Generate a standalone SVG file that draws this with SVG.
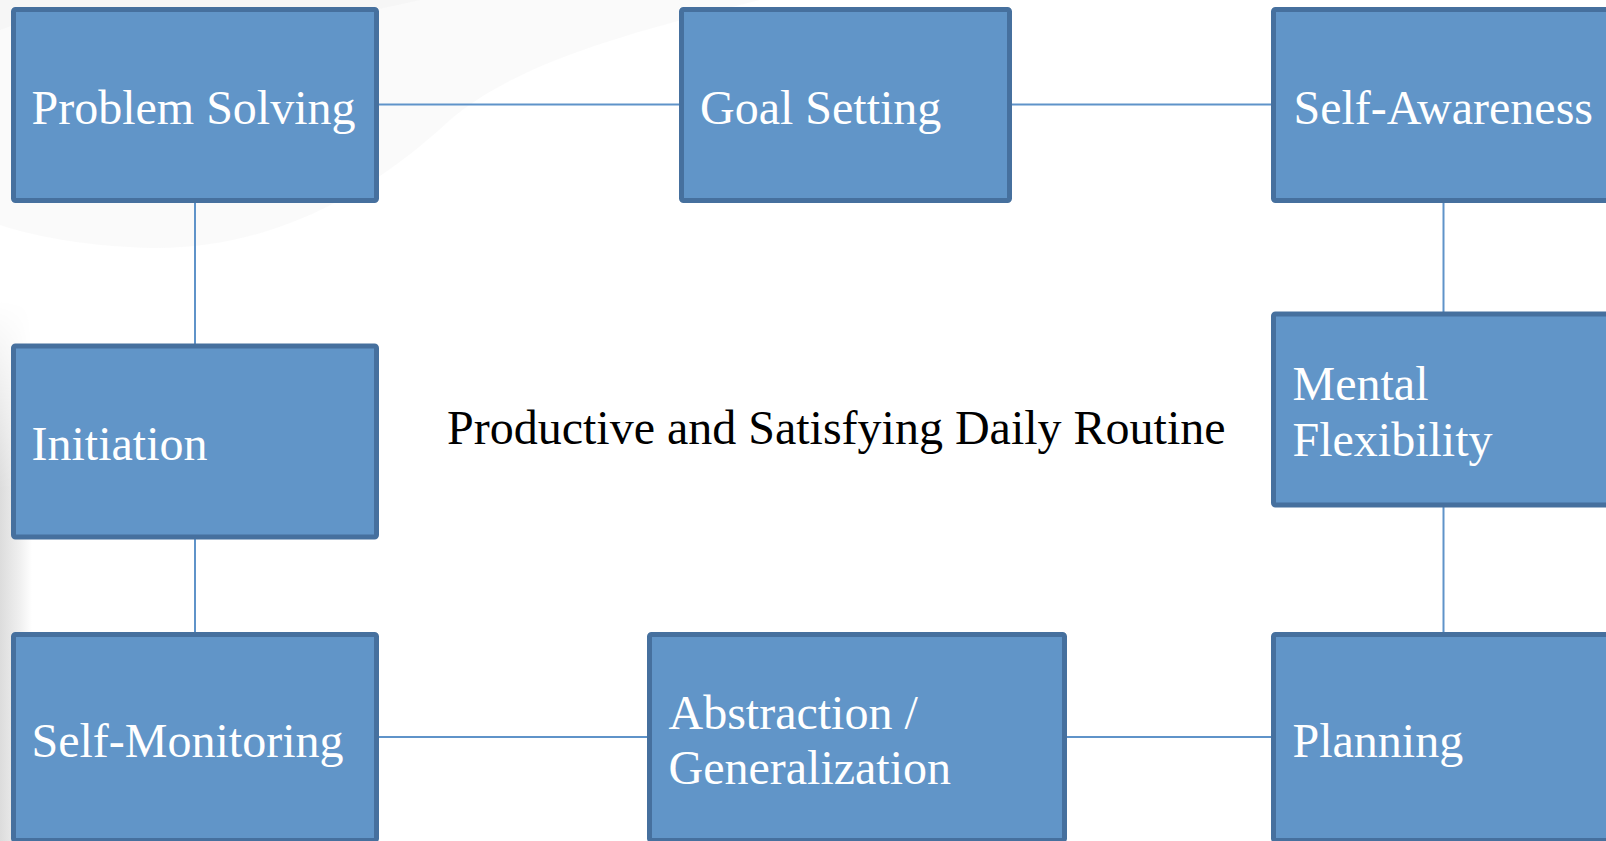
<svg xmlns="http://www.w3.org/2000/svg" width="1606" height="841" viewBox="0 0 1606 841">
  <defs>
    <style>
      .box { fill: #6195c8; stroke: #46709e; stroke-width: 5; }
      .lbl { font-family: "Liberation Serif", "Times New Roman", serif; font-size: 48px; fill: #ffffff; }
      .title { font-family: "Liberation Serif", "Times New Roman", serif; font-size: 48px; fill: #000000; }
      .conn line { stroke: #5f93c9; stroke-width: 2; }
    </style>
    <linearGradient id="edgeShade" x1="0" y1="0" x2="1" y2="0">
      <stop offset="0" stop-color="#dcdcdc"/>
      <stop offset="0.6" stop-color="#efefef"/>
      <stop offset="1" stop-color="#ffffff"/>
    </linearGradient>
    <linearGradient id="edgeFade" x1="0" y1="0" x2="0" y2="1">
      <stop offset="0" stop-color="#000000"/>
      <stop offset="0.35" stop-color="#ffffff"/>
      <stop offset="1" stop-color="#ffffff"/>
    </linearGradient>
    <mask id="edgeMask">
      <rect x="0" y="300" width="40" height="541" fill="url(#edgeFade)"/>
    </mask>
  </defs>

  <!-- page background with faint swoosh shading -->
  <rect x="0" y="0" width="1606" height="841" fill="#ffffff"/>
  <path d="M0,0 L760,0 C 640,30 520,60 450,120 C 380,185 280,250 150,248 C 80,246 30,235 0,225 Z" fill="#f6f6f6" opacity="0.55"/>
  <path d="M0,0 L420,0 C 330,20 240,40 170,20 C 110,5 50,10 0,30 Z" fill="#efefef" opacity="0.4"/>
  <rect x="0" y="300" width="32" height="541" fill="url(#edgeShade)" mask="url(#edgeMask)"/>

  <!-- connectors -->
  <g id="connectors" class="conn">
    <line x1="379" y1="104.5" x2="679" y2="104.5"/>
    <line x1="1012" y1="104.5" x2="1271" y2="104.5"/>
    <line x1="195" y1="203" x2="195" y2="344"/>
    <line x1="195" y1="539" x2="195" y2="632"/>
    <line x1="1443.5" y1="203" x2="1443.5" y2="312"/>
    <line x1="1443.5" y1="507" x2="1443.5" y2="632"/>
    <line x1="379" y1="737" x2="647" y2="737"/>
    <line x1="1066" y1="737" x2="1271" y2="737"/>
  </g>

  <g id="problem-solving">
    <rect class="box" x="13.5" y="9.5" width="363" height="191" rx="2"/>
    <text class="lbl" x="31.5" y="124">Problem Solving</text>
  </g>

  <g id="goal-setting">
    <rect class="box" x="681.5" y="9.5" width="328" height="191" rx="2"/>
    <text class="lbl" x="700" y="124">Goal Setting</text>
  </g>

  <g id="self-awareness">
    <rect class="box" x="1273.5" y="9.5" width="360" height="191" rx="2"/>
    <text class="lbl" x="1293.5" y="124">Self-Awareness</text>
  </g>

  <g id="initiation">
    <rect class="box" x="13.5" y="346" width="363" height="191" rx="2"/>
    <text class="lbl" x="31.5" y="460">Initiation</text>
  </g>

  <g id="mental-flexibility">
    <rect class="box" x="1273.5" y="314" width="360" height="191" rx="2"/>
    <text class="lbl" x="1292.5" y="400">Mental</text>
    <text class="lbl" x="1292.5" y="455.5">Flexibility</text>
  </g>

  <g id="self-monitoring">
    <rect class="box" x="13.5" y="634.5" width="363" height="206" rx="2"/>
    <text class="lbl" x="31.5" y="757">Self-Monitoring</text>
  </g>

  <g id="abstraction-generalization">
    <rect class="box" x="649.5" y="634.5" width="415" height="206" rx="2"/>
    <text class="lbl" x="668.5" y="728.5">Abstraction /</text>
    <text class="lbl" x="668.5" y="784">Generalization</text>
  </g>

  <g id="planning">
    <rect class="box" x="1273.5" y="634.5" width="360" height="206" rx="2"/>
    <text class="lbl" x="1292.5" y="757">Planning</text>
  </g>

  <g id="daily-routine">
    <text class="title" x="447" y="444">Productive and Satisfying Daily Routine</text>
  </g>
</svg>
